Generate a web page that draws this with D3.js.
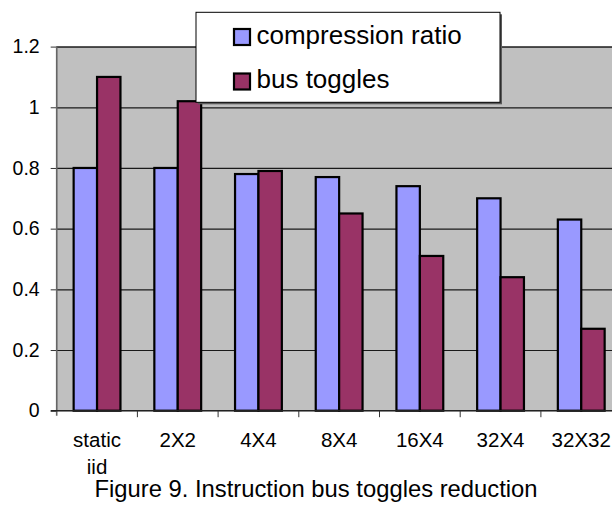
<!DOCTYPE html>
<html>
<head>
<meta charset="utf-8">
<script src="https://cdn.jsdelivr.net/npm/d3@7"></script>
<style>
  body { margin: 0; background: #fff; }
  svg { display: block; font-family: 'Liberation Sans', Arial, sans-serif; }
</style>
</head>
<body>
<div id="chart"></div>
<script>
// Data
const categories = ['static iid', '2X2', '4X4', '8X4', '16X4', '32X4', '32X32']
const seriesNames = ['compression ratio', 'bus toggles']
const compressionRatio = [0.8, 0.8, 0.78, 0.77, 0.74, 0.70, 0.63]
const busToggles = [1.1, 1.02, 0.79, 0.65, 0.51, 0.44, 0.27]
const yTicks = [0, 0.2, 0.4, 0.6, 0.8, 1, 1.2]
const caption = 'Figure 9. Instruction bus toggles reduction'

const colors = ['#9999ff', '#993366']

const drawChart = () => {
  const width = 612
  const height = 510
  // Plot area (right side runs past the window, as in the original)
  const left = 56.7
  const top = 46.6
  const bottom = 410.7
  const step = 80.7
  const right = left + step * categories.length

  const svg = d3.select('#chart')
    .append('svg')
    .attr('width', width)
    .attr('height', height)

  const x = d3.scaleBand()
    .domain(categories)
    .range([left, right])
    .padding(0)

  const xs = d3.scaleBand()
    .domain(seriesNames)
    .range([0, x.bandwidth()])
    .paddingInner(0)
    .paddingOuter(0.724)

  const y = d3.scaleLinear()
    .domain([0, 1.2])
    .range([bottom, top])

  // Plot background
  svg.append('rect')
    .attr('x', left)
    .attr('y', top)
    .attr('width', right - left)
    .attr('height', bottom - top)
    .attr('fill', '#c0c0c0')
    .attr('stroke', '#8a8a8a')
    .attr('stroke-width', 1)

  // Y gridlines
  svg.append('g')
    .attr('transform', `translate(${left}, 0)`)
    .call(d3.axisLeft(y).tickValues(yTicks.slice(1)).tickSize(-(right - left)).tickFormat(''))
    .call(g => g.select('.domain').remove())
    .call(g => g.selectAll('line').attr('stroke', '#1a1a1a').attr('stroke-width', 1.2))

  // Bars
  const rows = categories.map((c, i) => ({ c, vals: [compressionRatio[i], busToggles[i]] }))
  const groups = svg.append('g')
    .selectAll('g')
    .data(rows)
    .join('g')
    .attr('transform', d => `translate(${x(d.c)}, 0)`)

  groups.selectAll('rect')
    .data(d => d.vals.map((v, k) => ({ s: seriesNames[k], v, k })))
    .join('rect')
    .attr('x', d => xs(d.s))
    .attr('y', d => y(d.v))
    .attr('width', xs.bandwidth())
    .attr('height', d => y(0) - y(d.v))
    .attr('fill', d => colors[d.k])
    .attr('stroke', '#000')
    .attr('stroke-width', 2.2)

  // Y axis
  svg.append('g')
    .attr('transform', `translate(${left}, 0)`)
    .call(d3.axisLeft(y).tickValues(yTicks).tickSize(6).tickPadding(11).tickFormat(d3.format('')))
    .call(g => g.select('.domain').remove())
    .call(g => g.selectAll('line').attr('stroke', '#333'))
    .call(g => g.selectAll('text').attr('font-size', 19.5).attr('fill', '#000').attr('font-family', null))

  svg.append('line')
    .attr('x1', left).attr('x2', left)
    .attr('y1', top).attr('y2', bottom + 5)
    .attr('stroke', '#666')
    .attr('stroke-width', 1.6)

  // X axis line and boundary ticks
  svg.append('line')
    .attr('x1', left - 6).attr('x2', right)
    .attr('y1', bottom).attr('y2', bottom)
    .attr('stroke', '#222')
    .attr('stroke-width', 1.4)

  const bounds = categories.map(c => x(c)).concat([right])
  svg.append('g')
    .selectAll('line')
    .data(bounds.slice(1))
    .join('line')
    .attr('x1', d => d).attr('x2', d => d)
    .attr('y1', bottom).attr('y2', bottom + 6.5)
    .attr('stroke', '#333')

  // Category labels
  svg.append('g')
    .selectAll('text')
    .data(categories)
    .join('text')
    .attr('x', d => x(d) + x.bandwidth() / 2)
    .attr('y', 447)
    .attr('text-anchor', 'middle')
    .attr('font-size', 20.5)
    .each(function (d) {
      const parts = d.split(' ')
      d3.select(this).selectAll('tspan')
        .data(parts)
        .join('tspan')
        .attr('x', x(d) + x.bandwidth() / 2)
        .attr('dy', (p, i) => i === 0 ? 0 : 27)
        .text(p => p)
    })

  // Legend
  const legend = svg.append('g')
  legend.append('rect')
    .attr('x', 198).attr('y', 14.3)
    .attr('width', 304).attr('height', 90)
    .attr('fill', '#5a5a5a')
  legend.append('rect')
    .attr('x', 196).attr('y', 12.3)
    .attr('width', 304).attr('height', 90)
    .attr('fill', '#fff')
    .attr('stroke', '#000')
    .attr('stroke-width', 1)

  const items = legend.selectAll('g.item')
    .data(seriesNames)
    .join('g')
    .attr('class', 'item')
    .attr('transform', (d, i) => `translate(0, ${i * 44.5})`)

  items.append('rect')
    .attr('x', 234).attr('y', 29)
    .attr('width', 16).attr('height', 16)
    .attr('fill', (d, i) => colors[i])
    .attr('stroke', '#000')
    .attr('stroke-width', 2.2)

  items.append('text')
    .attr('x', 256.5).attr('y', 43.5)
    .attr('font-size', 26)
    .text(d => d)

  // Caption
  svg.append('text')
    .attr('x', 316)
    .attr('y', 497)
    .attr('text-anchor', 'middle')
    .attr('font-size', 23.8)
    .text(caption)
}

drawChart()
</script>
</body>
</html>
